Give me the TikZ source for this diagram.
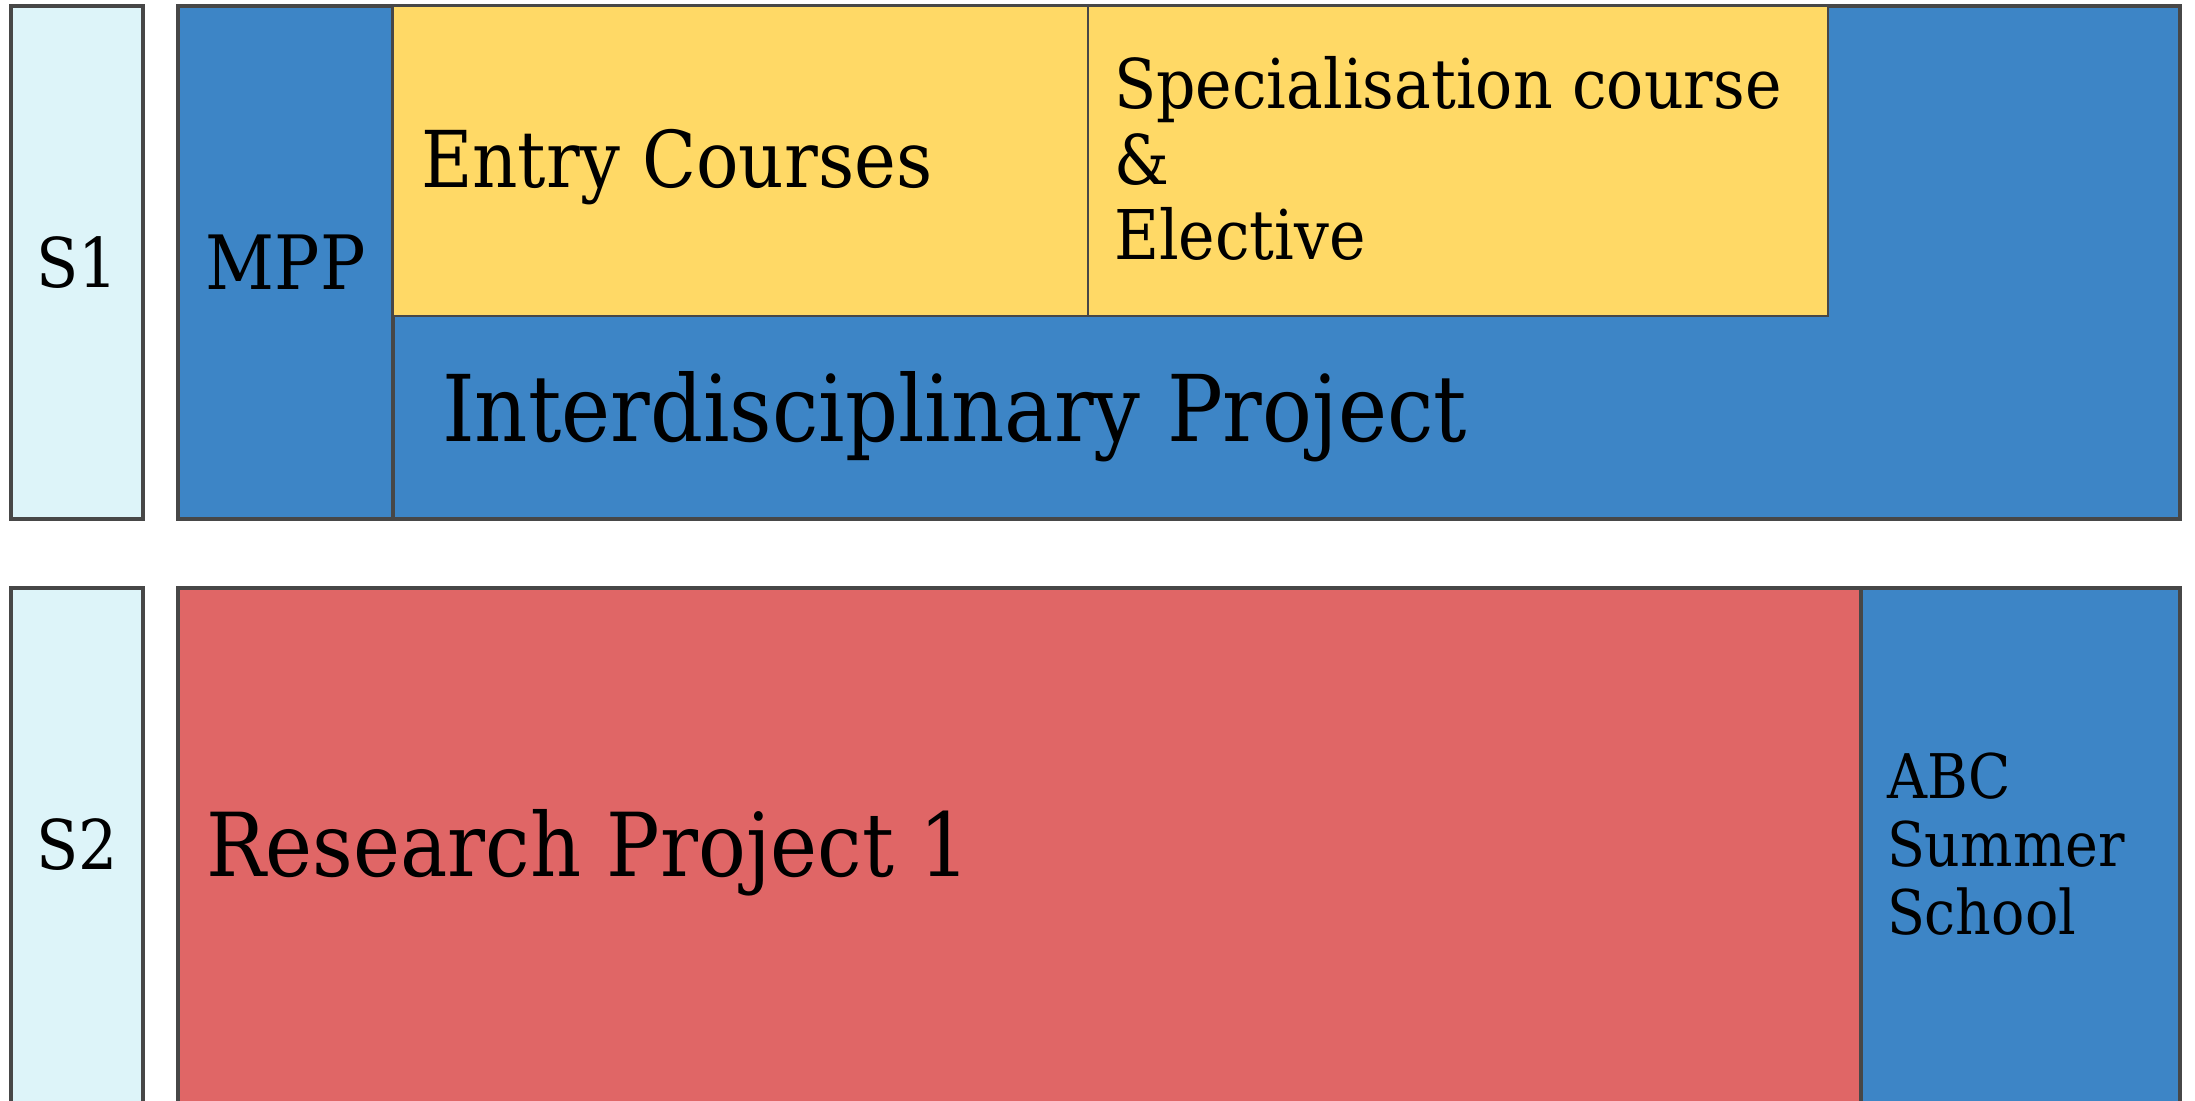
\documentclass[tikz,border=0pt]{standalone}
\usepackage{fontspec}
\setmainfont{DejaVu Serif}[FakeStretch=0.9]
\usetikzlibrary{fit}
\definecolor{semfill}{HTML}{DDF4F9}
\definecolor{blockblue}{HTML}{3D85C6}
\definecolor{courseyellow}{HTML}{FFD966}
\definecolor{researchred}{HTML}{E06666}
\definecolor{edge}{HTML}{474747}
\begin{document}
\begin{tikzpicture}[x=0.01cm,y=-0.01cm,
  frame/.style={draw=edge, line width=0.95pt, inner sep=0pt, outer sep=0pt},
  thinframe/.style={draw=edge, line width=0.6pt, inner sep=0pt, outer sep=0pt},
  label/.style={inner sep=0pt, outer sep=0pt, text=black},
  lines/.style={label, align=left}]
\useasboundingbox (0,0) rectangle (2195,1101);
\clip (0,0) rectangle (2195,1101);

% ---- semester 1 ----
\node[frame, fill=semfill, fit={(11,6) (143,519)}] (s1) {};
\node[label, font=\fontsize{19.5pt}{23pt}\selectfont] at (s1.center) {S1};

\node[frame, fill=blockblue, fit={(178,6) (2180,519)}] (sem1) {};
\node[frame, fill=blockblue, fit={(178,6) (393,519)}] (mpp) {};
\node[label, font=\fontsize{21.3pt}{24pt}\selectfont] at (mpp.center) {MPP};

\node[thinframe, fill=courseyellow, fit={(393,6) (1088,316)}] (entry) {};
\node[label, anchor=base west, font=\fontsize{22.3pt}{27pt}\selectfont] at (421,188) {Entry Courses};

\node[thinframe, fill=courseyellow, fit={(1088,6) (1828,316)}] (spec) {};
\node[lines, anchor=base west, font=\fontsize{19.5pt}{21.6pt}\selectfont] at (1114,260)
  {Specialisation course\\ \&\\ Elective};

\node[label, anchor=base west, font=\fontsize{26.2pt}{32pt}\selectfont] (idp) at (442,442) {Interdisciplinary Project};

% ---- semester 2 ----
\node[frame, fill=semfill, fit={(11,588) (143,1130)}] (s2) {};
\node[label, anchor=base, font=\fontsize{19.5pt}{23pt}\selectfont] at (77,869) {S2};

\node[frame, fill=researchred, fit={(178,588) (1861,1130)}] (rp) {};
\node[label, anchor=base west, font=\fontsize{25.1pt}{30pt}\selectfont] at (206,876) {Research Project 1};

\node[frame, fill=blockblue, fit={(1861,588) (2180,1130)}] (abc) {};
\node[lines, anchor=base west, font=\fontsize{17.5pt}{19.3pt}\selectfont] at (1887,934)
  {ABC\\ Summer\\ School};
\end{tikzpicture}
\end{document}
